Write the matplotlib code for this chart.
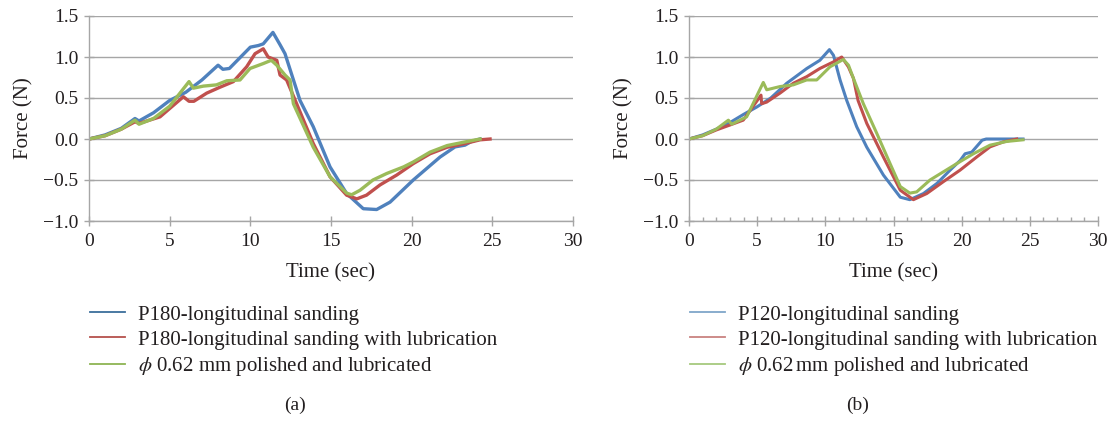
import matplotlib
matplotlib.use("Agg")
import matplotlib.pyplot as plt
from matplotlib.lines import Line2D

plt.rcParams['font.family'] = ['Liberation Serif', 'DejaVu Serif']
plt.rcParams['mathtext.fontset'] = 'stix'

# ---------------- Data: panel (a) ----------------
a_blue_t = [0, 1, 2, 2.85, 3.1, 4, 5, 6, 7, 8.0, 8.3, 8.7, 10.0, 10.5, 10.8, 11.4, 11.84, 12.15,
            13.08, 13.9, 14.94, 15.97, 17.0, 17.83, 18.66, 20.1, 20.93, 21.76, 22.69, 23.3, 23.7, 24.24]
a_blue_f = [0, 0.05, 0.13, 0.25, 0.22, 0.32, 0.47, 0.57, 0.72, 0.90, 0.85, 0.86, 1.12, 1.14, 1.16, 1.30, 1.15, 1.04,
            0.47, 0.15, -0.34, -0.665, -0.85, -0.86, -0.77, -0.50, -0.36, -0.22, -0.096, -0.075, -0.03, 0.0]

a_red_t = [0, 1, 2, 2.85, 3.1, 4.4, 5.85, 6.2, 6.5, 7.3, 8.1, 8.95, 9.77, 10.29, 10.8, 11.1, 11.64, 11.84,
           12.25, 12.87, 13.9, 14.94, 15.97, 16.6, 17.2, 18.04, 19.07, 20.1, 21.14, 22.2, 23.2, 24.24, 24.86]
a_red_f = [0, 0.04, 0.12, 0.21, 0.19, 0.27, 0.515, 0.46, 0.46, 0.56, 0.63, 0.70, 0.88, 1.04, 1.10, 1.0, 0.96, 0.78,
           0.72, 0.43, -0.055, -0.46, -0.685, -0.73, -0.685, -0.56, -0.44, -0.30, -0.18, -0.10, -0.06, -0.01, 0.0]

a_grn_t = [0, 1, 2, 2.85, 3.1, 4, 5, 6.2, 6.47, 7.09, 7.9, 8.54, 9.36, 9.98, 10.8, 11.3, 11.64, 12.15,
           12.46, 12.67, 13.9, 14.94, 15.97, 16.28, 16.8, 17.6, 18.46, 19.5, 20.1, 21.14, 22.2, 23.2, 24.24]
a_grn_f = [0, 0.04, 0.12, 0.23, 0.18, 0.25, 0.40, 0.70, 0.62, 0.645, 0.66, 0.71, 0.72, 0.86, 0.92, 0.96, 0.90, 0.78,
           0.72, 0.43, -0.10, -0.46, -0.66, -0.68, -0.625, -0.50, -0.42, -0.34, -0.28, -0.16, -0.08, -0.04, 0.0]

# ---------------- Data: panel (b) ----------------
b_blue_t = [0, 1, 2, 3, 4, 4.97, 6, 7.17, 8.64, 9.6, 10.3, 10.6, 11.08, 11.57, 12.3, 13.04, 14.26, 15.5,
            16.2, 17.2, 18.2, 19.15, 19.9, 20.25, 20.74, 21.5, 21.8, 23.55, 24.5]
b_blue_f = [0, 0.05, 0.12, 0.20, 0.30, 0.39, 0.50, 0.68, 0.86, 0.96, 1.09, 1.02, 0.72, 0.47, 0.15, -0.10, -0.44, -0.71,
            -0.74, -0.665, -0.54, -0.38, -0.26, -0.18, -0.16, -0.015, 0.0, 0.0, 0.0]

b_red_t = [0, 1, 2, 3.0, 3.98, 5.2, 5.28, 5.33, 5.7, 6.68, 7.65, 8.63, 9.6, 10.59, 11.2, 11.69, 12.06, 12.4,
           13.04, 14.26, 15.5, 16.46, 17.44, 18.66, 19.88, 21.1, 22.08, 23.06, 24.04]
b_red_f = [0, 0.04, 0.11, 0.17, 0.23, 0.515, 0.535, 0.43, 0.45, 0.56, 0.68, 0.76, 0.86, 0.94, 1.0, 0.88, 0.74, 0.47,
           0.19, -0.22, -0.625, -0.74, -0.665, -0.52, -0.38, -0.22, -0.096, -0.035, 0.0]

b_grn_t = [0, 1, 2, 2.89, 3.13, 4.23, 5.45, 5.7, 6.68, 7.65, 8.63, 9.37, 10.34, 11.32, 11.7, 12.06, 12.79, 13.77,
           14.75, 15.5, 16.2, 16.7, 17.68, 18.66, 19.64, 20.86, 22.08, 23.3, 24.5]
b_grn_f = [0, 0.04, 0.12, 0.23, 0.18, 0.27, 0.69, 0.60, 0.64, 0.66, 0.72, 0.72, 0.88, 0.97, 0.90, 0.74, 0.43, 0.07,
           -0.30, -0.58, -0.66, -0.645, -0.50, -0.40, -0.30, -0.18, -0.075, -0.03, -0.01]

labels_a = ["P180-longitudinal sanding", "P180-longitudinal sanding with lubrication",
            r"$\phi$ 0.62 mm polished and lubricated"]
labels_b = ["P120-longitudinal sanding", "P120-longitudinal sanding with lubrication",
            r"$\phi$ 0.62$\,$mm polished and lubricated"]

BLUE = '#4F81BD'
RED = '#C0504D'
GREEN = '#9BBB59'
GRID = '#A6A6A6'
TXT = '#231F20'

fig = plt.figure(figsize=(11.13, 4.21), dpi=100)
ax_a = fig.add_axes([89/1113, 1 - 221/421, (573-89)/1113, 205/421])
ax_b = fig.add_axes([689/1113, 1 - 221/421, (1098-689)/1113, 205/421])

def style(ax, minor):
    ax.set_xlim(0, 30)
    ax.set_ylim(-1.0, 1.5)
    ax.set_xticks([0, 5, 10, 15, 20, 25, 30])
    ax.set_yticks([-1.0, -0.5, 0.0, 0.5, 1.0, 1.5])
    ax.set_yticklabels(['\u22121.0', '\u22120.5', '0.0', '0.5', '1.0', '1.5'])
    ax.grid(axis='y', color=GRID, linewidth=1.0)
    ax.set_axisbelow(True)
    for s in ['top', 'right']:
        ax.spines[s].set_visible(False)
    for s in ['left', 'bottom']:
        ax.spines[s].set_color(GRID)
        ax.spines[s].set_linewidth(1.0)
    ax.tick_params(axis='both', colors=GRID, labelcolor=TXT, labelsize=14, width=1.0)
    ax.tick_params(axis='x', direction='inout', length=7, pad=5)
    ax.tick_params(axis='y', direction='inout', length=7, pad=4)
    if minor:
        ax.set_xticks(list(range(0, 31)), minor=True)
        ax.tick_params(axis='x', which='minor', direction='in', length=3, colors=GRID, width=1.0)
    ax.set_xlabel('Time (sec)', fontsize=15, color=TXT, labelpad=10)
    ax.set_ylabel('Force (N)', fontsize=15, color=TXT, labelpad=7)

style(ax_a, False)
style(ax_b, True)

ax_a.plot(a_blue_t, a_blue_f, color=BLUE, lw=2.4, solid_joinstyle='round')
ax_a.plot(a_red_t, a_red_f, color=RED, lw=2.4, solid_joinstyle='round')
ax_a.plot(a_grn_t, a_grn_f, color=GREEN, lw=2.4, solid_joinstyle='round')

ax_b.plot(b_blue_t, b_blue_f, color=BLUE, lw=2.2, solid_joinstyle='round')
ax_b.plot(b_red_t, b_red_f, color=RED, lw=2.2, solid_joinstyle='round')
ax_b.plot(b_grn_t, b_grn_f, color=GREEN, lw=2.2, solid_joinstyle='round')

def legend(labels, x0, colors):
    hs = [Line2D([0], [0], color=c, lw=1.3) for c in colors]
    fig.legend(hs, labels, loc='upper left', bbox_to_anchor=(x0/1113, 1 - 305/421),
               frameon=False, fontsize=15, handlelength=1.68, handletextpad=0.62,
               labelspacing=0.27, borderaxespad=0, borderpad=0, labelcolor=TXT)

legend(labels_a, 90, ['#3C6E9B', '#B5504C', '#8DB453'])
legend(labels_b, 690, ['#7FA6C9', '#C98280', '#A6C97E'])

fig.text(295/1113, 1 - 405/421, '(a)', ha='center', va='center', fontsize=14, color=TXT)
fig.text(858/1113, 1 - 405/421, '(b)', ha='center', va='center', fontsize=14, color=TXT)

fig.savefig('out.png', dpi=100, facecolor='white')
